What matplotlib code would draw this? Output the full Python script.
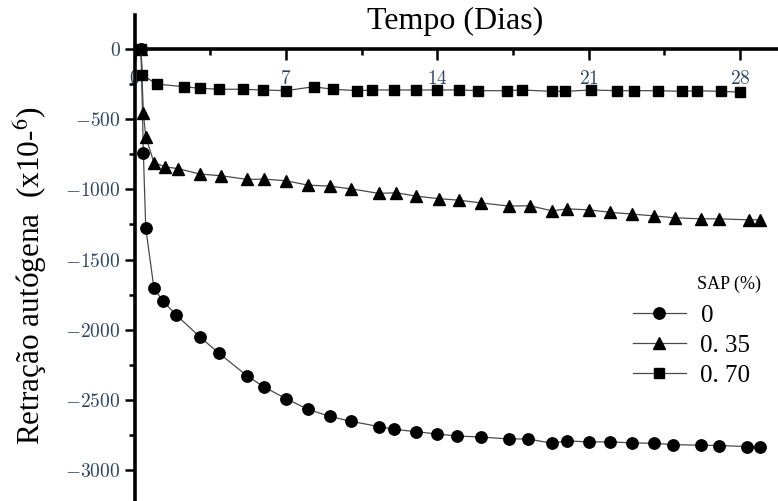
import matplotlib
matplotlib.use("Agg")
import matplotlib.pyplot as plt
from matplotlib.ticker import FixedLocator, FuncFormatter
from matplotlib.lines import Line2D

plt.rcParams['font.family'] = ['Liberation Serif', 'DejaVu Serif']
plt.rcParams['mathtext.fontset'] = 'cm'

# Autogenous shrinkage (x10^-6) versus age in days, per SAP content
days_0 = [0.3, 0.41, 0.52, 0.90, 1.32, 1.91, 3.02, 3.91, 5.21, 6.01, 7.01, 8.02,
          9.02, 10.0, 11.3, 12.0, 13.0, 14.0, 14.9, 16.0, 17.3, 18.2, 19.3, 20.0,
          21.0, 22.0, 23.0, 24.0, 24.9, 26.2, 27.0, 28.3, 28.9]
vals_0 = [0, -740, -1275, -1706, -1797, -1892, -2051, -2168, -2329, -2410, -2491,
          -2567, -2617, -2652, -2690, -2709, -2726, -2743, -2757, -2764, -2778,
          -2778, -2809, -2792, -2799, -2799, -2806, -2809, -2818, -2823, -2825,
          -2832, -2832]

days_35 = [0.3, 0.41, 0.52, 0.90, 1.41, 2.03, 3.02, 4.0, 5.21, 6.01, 7.01, 8.02,
           9.02, 10.0, 11.3, 12.1, 13.0, 14.1, 15.0, 16.0, 17.3, 18.3, 19.3, 20.0,
           21.0, 22.0, 23.0, 24.0, 25.0, 26.2, 27.0, 28.4, 28.9]
vals_35 = [0, -459, -625, -811, -839, -853, -891, -903, -929, -927, -939, -970,
           -977, -996, -1029, -1024, -1048, -1067, -1077, -1096, -1119, -1117,
           -1153, -1139, -1146, -1164, -1176, -1189, -1203, -1210, -1210, -1217,
           -1217]

days_70 = [0.3, 0.36, 1.03, 2.29, 3.03, 3.91, 5.01, 5.92, 7.0, 8.28, 9.16, 10.3,
           11.0, 12.0, 13.0, 14.0, 15.0, 15.9, 17.2, 17.9, 19.3, 19.9, 21.1, 22.3,
           23.1, 24.2, 25.3, 26.0, 27.1, 28.0]
vals_70 = [0, -185, -250, -269, -280, -287, -287, -292, -297, -269, -287, -297,
           -292, -292, -292, -292, -292, -297, -297, -292, -302, -302, -292, -297,
           -297, -297, -302, -297, -302, -307]

sap_labels = ['0', '0. 35', '0. 70']
x_major = [0, 7, 14, 21, 28]
x_minor = [3.5, 10.5, 17.5, 24.5]
y_major = [-3000, -2500, -2000, -1500, -1000, -500, 0]
y_minor = [-3250, -2750, -2250, -1750, -1250, -750, -250]

W, H = 778, 501
fig = plt.figure(figsize=(W / 100, H / 100), dpi=100)
left_px, top_px = 134.5, 15
ax = fig.add_axes([left_px / W, 0, 1 - left_px / W, (H - top_px) / H])
ax.set_xlim(0, 29.75)
ax.set_ylim(-3220, 242)

line_kw = dict(color='#4a4a4a', linewidth=0.9, markerfacecolor='black',
               markeredgecolor='black')
ax.plot(days_0, vals_0, marker='o', markersize=8.2, **line_kw)
ax.plot(days_35, vals_35, marker='^', markersize=8.5, **line_kw)
ax.plot(days_70, vals_70, marker='s', markersize=6.5, **line_kw)

for s in ('top', 'right'):
    ax.spines[s].set_visible(False)
ax.spines['bottom'].set_position(('data', 0))
ax.spines['bottom'].set_linewidth(2.6)
ax.spines['left'].set_linewidth(2.6)
ax.spines['bottom'].set_zorder(1)

tick_color = '#2d4565'
ax.xaxis.set_major_locator(FixedLocator(x_major))
ax.xaxis.set_minor_locator(FixedLocator(x_minor))
ax.yaxis.set_major_locator(FixedLocator(y_major))
ax.yaxis.set_minor_locator(FixedLocator(y_minor))
fmt = FuncFormatter(lambda v, p: f"${v:g}$")
ax.xaxis.set_major_formatter(fmt)
ax.yaxis.set_major_formatter(fmt)
ax.tick_params(axis='x', which='major', direction='out', length=8, width=1.8,
               pad=7, labelsize=14, labelcolor=tick_color)
ax.tick_params(axis='x', which='minor', direction='out', length=4.5, width=1.8)
ax.tick_params(axis='y', which='major', direction='out', length=7, width=1.8,
               pad=3, labelsize=14, labelcolor=tick_color)
ax.tick_params(axis='y', which='minor', direction='out', length=4, width=1.8)

fig.text(455 / W, 1 - 21 / H, 'Tempo (Dias)', ha='center', va='center',
         fontsize=23)
fig.text(30 / W, 1 - 276 / H, 'Retração autógena  (x10-$^{6}$)', rotation=90,
         ha='center', va='center', fontsize=22.5, math_fontfamily='stix')

handles = [Line2D([], [], marker=m, markersize=ms, **line_kw)
           for m, ms in (('o', 8.2), ('^', 8.5), ('s', 6.5))]
ax.legend(handles, sap_labels, loc='upper left',
          bbox_to_anchor=(633 / W, 1 - 304 / H), bbox_transform=fig.transFigure,
          frameon=False, fontsize=18, handlelength=2.1, handletextpad=0.6,
          labelspacing=0.3, borderpad=0, borderaxespad=0)
fig.text(697 / W, 1 - 284 / H, 'SAP (%)', ha='left', va='center', fontsize=13)

fig.savefig('out.png', dpi=100)
